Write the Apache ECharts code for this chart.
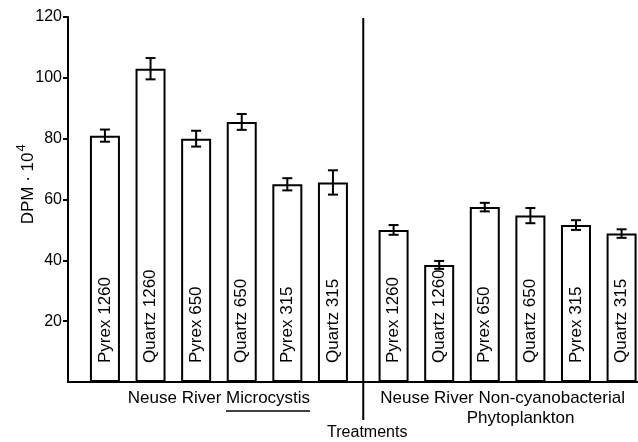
<!DOCTYPE html>
<html>
<head>
<meta charset="utf-8">
<script src="https://cdn.jsdelivr.net/npm/echarts@6/dist/echarts.min.js"></script>
<style>
html,body{margin:0;padding:0;background:#fff;}
#chart{width:638px;height:442px;}
</style>
</head>
<body>
<div id="chart"></div>
<script>
// ---- data ----
const categories = ['Pyrex 1260','Quartz 1260','Pyrex 650','Quartz 650','Pyrex 315','Quartz 315',
                    'Pyrex 1260','Quartz 1260','Pyrex 650','Quartz 650','Pyrex 315','Quartz 315'];
const groupNames = ['Neuse River ', 'Microcystis'];
const groupNames2 = ['Neuse River Non-cyanobacterial', 'Phytoplankton'];
const values = [81, 103, 80, 85.5, 65, 65.6, 50, 38.5, 57.5, 54.7, 51.6, 48.8];
const errors = [2, 3.5, 2.6, 2.6, 2, 4, 1.6, 1.3, 1.4, 2.5, 1.6, 1.4];
const yTicks = [20, 40, 60, 80, 100, 120];
const xTitle = 'Treatments';
const yTitle = 'DPM · 10';
const yTitleSup = '4';

// ---- layout helpers ----
const GAP = 0.33;
const pos = i => i + (i >= 6 ? GAP : 0);
const FONT = '"Liberation Sans", Arial, sans-serif';

const chart = echarts.init(document.getElementById('chart'), null, {renderer: 'canvas'});

const option = {
  backgroundColor: '#fff',
  animation: false,
  grid: {left: 68, right: 0, top: 17, bottom: 60, containLabel: false},
  xAxis: {
    type: 'value', min: -0.81, max: 11.69,
    axisLine: {show: true, onZero: false, lineStyle: {color: '#000', width: 2}},
    axisTick: {show: false}, axisLabel: {show: false}, splitLine: {show: false}
  },
  yAxis: {
    type: 'value', min: 0, max: 120, interval: 20,
    axisLine: {show: true, onZero: false, lineStyle: {color: '#000', width: 2}},
    axisTick: {show: true, length: 5, lineStyle: {color: '#000', width: 2}, customValues: yTicks},
    axisLabel: {color: '#000', fontSize: 16, fontFamily: FONT, margin: 6, customValues: yTicks},
    splitLine: {show: false}
  },
  series: [
    {
      type: 'bar',
      barWidth: 30,
      data: values.map((v, i) => [pos(i), v]),
      itemStyle: {color: '#fff', borderColor: '#000', borderWidth: 2},
      label: {
        show: true, position: 'insideBottom', distance: 19, rotate: 90,
        align: 'left', verticalAlign: 'middle',
        color: '#000', fontSize: 17, fontFamily: FONT,
        formatter: p => categories[p.dataIndex]
      }
    },
    {
      type: 'custom',
      data: values.map((v, i) => [pos(i), v - errors[i], v + errors[i]]),
      renderItem: function (params, api) {
        const lo = api.coord([api.value(0), api.value(1)]);
        const hi = api.coord([api.value(0), api.value(2)]);
        const hw = 5;
        const st = {stroke: '#000', lineWidth: 2};
        return {
          type: 'group',
          children: [
            {type: 'line', shape: {x1: lo[0], y1: lo[1], x2: hi[0], y2: hi[1]}, style: st},
            {type: 'line', shape: {x1: lo[0]-hw, y1: lo[1], x2: lo[0]+hw, y2: lo[1]}, style: st},
            {type: 'line', shape: {x1: hi[0]-hw, y1: hi[1], x2: hi[0]+hw, y2: hi[1]}, style: st}
          ]
        };
      },
      z: 5
    }
  ]
};
chart.setOption(option);

// ---- annotations positioned through the axes ----
const px = x => chart.convertToPixel({xAxisIndex: 0}, x);
const py = y => chart.convertToPixel({yAxisIndex: 0}, y);
const divX = px((pos(5) + pos(6)) / 2);
const yTop = py(120), yZero = py(0);
const leftCx = px((pos(0) + pos(5)) / 2);
const rightCx = px((pos(6) + pos(11)) / 2);

const ctx = document.createElement('canvas').getContext('2d');
ctx.font = '17px ' + FONT;
const wA = ctx.measureText(groupNames[0]).width;
const wB = ctx.measureText(groupNames[1]).width;
const leftStart = leftCx - (wA + wB) / 2;

chart.setOption({
  graphic: [
    {type: 'line', shape: {x1: divX, y1: yTop + 1, x2: divX, y2: yZero + 38}, style: {stroke: '#000', lineWidth: 2}},
    {type: 'text', x: leftStart, y: yZero + 16, style: {text: groupNames[0] + groupNames[1], font: '17px ' + FONT, fill: '#000', textAlign: 'left', textVerticalAlign: 'middle'}},
    {type: 'line', shape: {x1: leftStart + wA, y1: yZero + 29, x2: leftStart + wA + wB, y2: yZero + 29}, style: {stroke: '#000', lineWidth: 1.5}},
    {type: 'text', x: rightCx - 5, y: yZero + 16, style: {text: groupNames2[0], font: '17px ' + FONT, fill: '#000', textAlign: 'center', textVerticalAlign: 'middle'}},
    {type: 'text', x: rightCx + 13, y: yZero + 36, style: {text: groupNames2[1], font: '17px ' + FONT, fill: '#000', textAlign: 'center', textVerticalAlign: 'middle'}},
    {type: 'text', x: divX + 4, y: yZero + 51, style: {text: xTitle, font: '16px ' + FONT, fill: '#000', textAlign: 'center', textVerticalAlign: 'middle'}},
    {type: 'text', x: 26, y: py(65), rotation: Math.PI / 2,
     style: {text: '{a|' + yTitle + '}{s|' + yTitleSup + '}', textAlign: 'center', textVerticalAlign: 'middle',
       rich: {a: {fontSize: 17, fontFamily: FONT, color: '#000', verticalAlign: 'bottom'},
              s: {fontSize: 13, fontFamily: FONT, color: '#000', verticalAlign: 'top', padding: [0, 0, 9, 1]}}}}
  ]
});
</script>
</body>
</html>
